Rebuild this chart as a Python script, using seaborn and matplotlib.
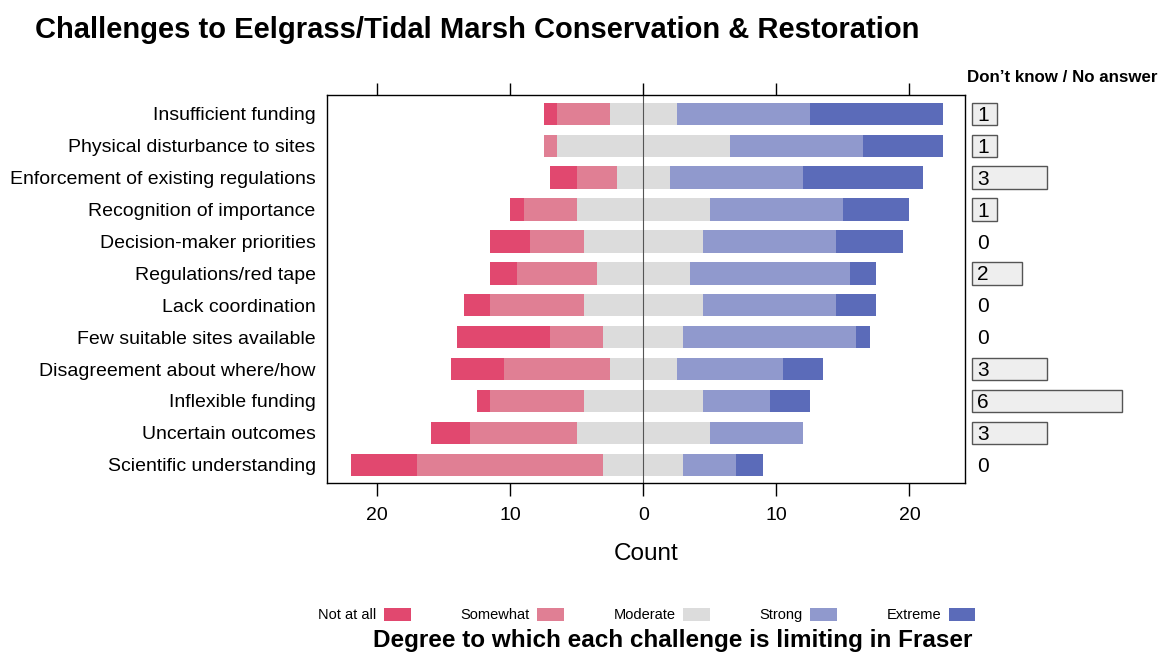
"""
Diverging stacked bars: challenges to eelgrass / tidal marsh conservation.
"""

import numpy as np
import pandas as pd
import seaborn as sns
import matplotlib.pyplot as plt
from matplotlib.patches import Patch

# Data (counts per response, 31 respondents)
challenges = ["Insufficient funding", "Physical disturbance to sites",
              "Enforcement of existing regulations", "Recognition of importance",
              "Decision-maker priorities", "Regulations/red tape",
              "Lack coordination", "Few suitable sites available",
              "Disagreement about where/how", "Inflexible funding",
              "Uncertain outcomes", "Scientific understanding"]
not_at_all = [1, 0, 2, 1, 3, 2, 2, 7, 4, 1, 3, 5]
somewhat = [4, 1, 3, 4, 4, 6, 7, 4, 8, 7, 8, 14]
moderate = [5, 13, 4, 10, 9, 7, 9, 6, 5, 9, 10, 6]
strong = [10, 10, 10, 10, 10, 12, 10, 13, 8, 5, 7, 4]
extreme = [10, 6, 9, 5, 5, 2, 3, 1, 3, 3, 0, 2]
no_answer = [1, 1, 3, 1, 0, 2, 0, 0, 3, 6, 3, 0]

levels = ["Not at all", "Somewhat", "Moderate", "Strong", "Extreme"]
colors = ["#E1486F", "#E07F94", "#DCDCDC", "#9099CD", "#5B6BB9"]

sns.set_theme(style="white")
plt.rcParams['font.family'] = ['Liberation Sans', 'DejaVu Sans']
plt.rcParams['text.color'] = 'black'
plt.rcParams['axes.labelcolor'] = 'black'
plt.rcParams['xtick.color'] = 'black'
plt.rcParams['ytick.color'] = 'black'

df = pd.DataFrame({"challenge": challenges, "Not at all": not_at_all,
                   "Somewhat": somewhat, "Moderate": moderate,
                   "Strong": strong, "Extreme": extreme,
                   "no_answer": no_answer})

fig = plt.figure(figsize=(11.63, 6.56), dpi=100)
ax_bottom = 1 - 483 / 656
ax_h = (483 - 95) / 656
ax = fig.add_axes([0.281, ax_bottom, 0.549, ax_h])

y = np.arange(len(df))
# left edge of each bar: moderate is split around zero
left = -(df["Moderate"] / 2 + df["Somewhat"] + df["Not at all"]).values
for lev, col in zip(levels, colors):
    w = df[lev].values
    ax.barh(y, w, left=left, height=0.7, color=col, edgecolor="none")
    left = left + w

ax.axvline(0, color="#555555", lw=0.8)
ax.set_xlim(-23.8, 24.2)
ax.set_ylim(11.57, -0.59)
ax.set_yticks(y)
ax.set_yticklabels(challenges, fontsize=14)
ax.tick_params(axis="y", length=0, pad=8)
ax.set_xticks([-20, -10, 0, 10, 20])
ax.set_xticklabels(["20", "10", "0", "10", "20"], fontsize=14)
ax.tick_params(axis="x", direction="out", length=9, width=1,
               top=True, bottom=True, labeltop=False, pad=8)
ax.set_xlabel("Count", fontsize=17.5, labelpad=14)
for s in ax.spines.values():
    s.set_color("black")
    s.set_linewidth(1)

# Don't know / No answer panel
ax2 = fig.add_axes([970 / 1163, ax_bottom, 190 / 1163, ax_h])
sns.barplot(data=df, x="no_answer", y="challenge", orient="y", ax=ax2,
            color="#EEEEEE", edgecolor="#555555", linewidth=1, width=0.7,
            errorbar=None, saturation=1)
for p in ax2.patches:
    if p.get_width() == 0:
        p.set_visible(False)
for i, v in enumerate(no_answer):
    ax2.text(0.22, i + 0.05, str(v), fontsize=15, ha="left", va="center")
ax2.set_xlim(-0.08, 7.52)
ax2.set_ylim(11.57, -0.59)
ax2.set_axis_off()

fig.text(967 / 1163, 1 - 78 / 656, "Don\u2019t know / No answer",
         fontsize=12.2, fontweight="bold", ha="left", va="center")
fig.text(35 / 1163, 1 - 30 / 656,
         "Challenges to Eelgrass/Tidal Marsh Conservation & Restoration",
         fontsize=21, fontweight="bold", ha="left", va="center")

handles = [Patch(facecolor=c, edgecolor="none") for c in colors]
fig.legend(handles, levels, loc="center", bbox_to_anchor=(0.556, 1 - 615 / 656),
           ncol=5, frameon=False, markerfirst=False, fontsize=10.5,
           handlelength=1.8, handleheight=1.0, columnspacing=3.4,
           handletextpad=0.55)
fig.text(0.578, 1 - 640 / 656,
         "Degree to which each challenge is limiting in Fraser",
         fontsize=17.5, fontweight="bold", ha="center", va="center")

fig.savefig("out.png", dpi=100)
